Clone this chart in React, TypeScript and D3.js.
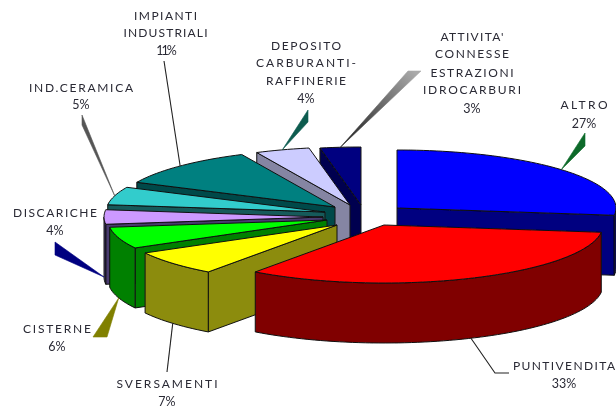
import React from 'react';
import * as d3 from 'd3';

// values, clockwise from 12 o'clock
const categories = ['ALTRO', 'PUNTIVENDITA', 'SVERSAMENTI', 'CISTERNE', 'DISCARICHE', 'IND.CERAMICA', 'IMPIANTI INDUSTRIALI', 'DEPOSITO CARBURANTI-RAFFINERIE', "ATTIVITA' CONNESSE ESTRAZIONI IDROCARBURI"];
const shares = [27, 33, 7, 6, 4, 5, 11, 4, 3];

const topColors = ['#0000ff', '#ff0000', '#ffff00', '#00ff00', '#cc99ff', '#33cccc', '#008080', '#ccccff', '#000080'];
const wallColors = ['#000080', '#800000', '#8c8c08', '#008000', '#4a3a70', '#145a5a', '#004a4a', '#8585a3', '#000050'];

// each slice is pulled out by its own amount
const origins = [[397, 208], [384, 225], [337, 225], [327, 220], [323, 217], [325, 212], [335, 207], [350, 205], [361, 205]];
// back slices first so the front ones cover them
const paintOrder = [0, 8, 7, 6, 5, 4, 3, 2, 1];

const RX = 219;
const RY = 58;
const DEPTH = 60;

// far end of each leader, the near end comes from the slice itself
const leaderEnds = [
  [[585, 133], [585, 146]],
  [[495, 373], [509, 373]],
  [[167, 372]],
  [[107, 337], [93, 337]],
  [[55, 242], [55, 255]],
  [[82, 115], [82, 125]],
  [[164, 61]],
  [[308, 110], [308, 122]],
  [[408, 71], [421, 71]],
];
const leaderColors = ['#0a6b2a', '#222222', '#222222', '#808000', '#000080', '#555555', '#222222', '#0b5c50', 'url(#fade)'];

const labelLines = [
  ['ALTRO'],
  ['PUNTIVENDITA'],
  ['SVERSAMENTI'],
  ['CISTERNE'],
  ['DISCARICHE'],
  ['IND.CERAMICA'],
  ['IMPIANTI', 'INDUSTRIALI'],
  ['DEPOSITO', 'CARBURANTI-', 'RAFFINERIE'],
  ['ATTIVITA\'', 'CONNESSE', 'ESTRAZIONI', 'IDROCARBURI'],
];
// the spacing in the original is uneven, so each line gets its own width
const labelWidths = [
  [47],
  [102],
  [101],
  [68],
  [84],
  [104],
  [63, 84],
  [70, 100, 80],
  [63, 74, 83, 98],
];
const labelCenters = [584, 564, 167, 57, 55, 81, 165.5, 306, 472];
const labelBaselines = [
  [109, 128],
  [370, 388],
  [388, 406],
  [333, 351],
  [217, 235],
  [92, 109],
  [20, 37, 55],
  [50, 67, 85, 103],
  [41, 58, 77, 94, 113],
];

const pie = d3.pie<number>().sort(null).startAngle(0).endAngle(2 * Math.PI);
const line = d3.line();

export default function App() {
  const arcs = pie(shares);

  const slices = arcs.map((a, i) => {
    const [ox, oy] = origins[i];
    const rim = (t: number): [number, number] => [ox + RX * Math.sin(t), oy - RY * Math.cos(t)];
    const sample = (t0: number, t1: number) => d3.range(t0, t1, 0.03).concat(t1).map(rim);
    const wall = (pts: [number, number][]) =>
      line([...pts, ...pts.slice().reverse().map(([x, y]) => [x, y + DEPTH] as [number, number])]) + 'Z';

    const start = rim(a.startAngle);
    const end = rim(a.endAngle);
    const walls: string[] = [];
    if (start[0] < ox - 0.5) walls.push(wall([[ox, oy], start]));
    if (end[0] > ox + 0.5) walls.push(wall([end, [ox, oy]]));
    const lo = Math.max(a.startAngle, Math.PI / 2);
    const hi = Math.min(a.endAngle, 1.5 * Math.PI);
    if (lo < hi) walls.push(wall(sample(lo, hi)));

    const top = line([[ox, oy], ...sample(a.startAngle, a.endAngle)]) + 'Z';

    const mid = (a.startAngle + a.endAngle) / 2;
    const m = rim(mid);
    const tip: [number, number] = [m[0], Math.cos(mid) < 0.01 ? m[1] + DEPTH : m[1]];
    return { walls, top, tip };
  });

  return (
    <svg width={616} height={410} style={{ position: 'absolute', left: 0, top: 0, background: '#fff' }}>
      <defs>
        <filter id="soft" x="0" y="0" width="100%" height="100%">
          <feGaussianBlur stdDeviation="0.4" />
        </filter>
        <linearGradient id="fade" gradientUnits="userSpaceOnUse" x1={414} y1={71} x2={342} y2={147}>
          <stop offset="0" stopColor="#aaaaaa" />
          <stop offset="1" stopColor="#1a1a1a" />
        </linearGradient>
      </defs>
      <g filter="url(#soft)">
        {paintOrder.map((i) => (
          <g key={categories[i]} stroke="#111" strokeWidth={1} strokeLinejoin="round">
            {slices[i].walls.map((d, j) => <path key={j} d={d} fill={wallColors[i]} />)}
            <path d={slices[i].top} fill={topColors[i]} />
          </g>
        ))}

        {slices.map((s, i) => {
          const ends = leaderEnds[i] as [number, number][];
          const wedge = ends.length === 2 && i !== 1;
          return (
            <path
              key={categories[i]}
              d={line([s.tip, ...ends]) + (wedge ? 'Z' : '')}
              fill={wedge ? leaderColors[i] : 'none'}
              stroke={leaderColors[i]}
              strokeWidth={wedge ? 0.6 : 1.1}
            />
          );
        })}

        <g fontFamily="Lato, sans-serif" fontSize={12} fill="#2a2a35" textAnchor="middle">
          {labelLines.map((lines, i) => (
            <g key={categories[i]}>
              {lines.map((t, j) => (
                <text
                  key={t}
                  x={labelCenters[i]}
                  y={labelBaselines[i][j]}
                  textLength={labelWidths[i][j]}
                  lengthAdjust="spacing"
                >
                  {t}
                </text>
              ))}
              <text
                x={labelCenters[i]}
                y={labelBaselines[i][lines.length]}
                fontSize={12.5}
                letterSpacing={shares[i] === 11 ? -2 : 0}
              >
                {shares[i]}%
              </text>
            </g>
          ))}
        </g>
      </g>
    </svg>
  );
}
